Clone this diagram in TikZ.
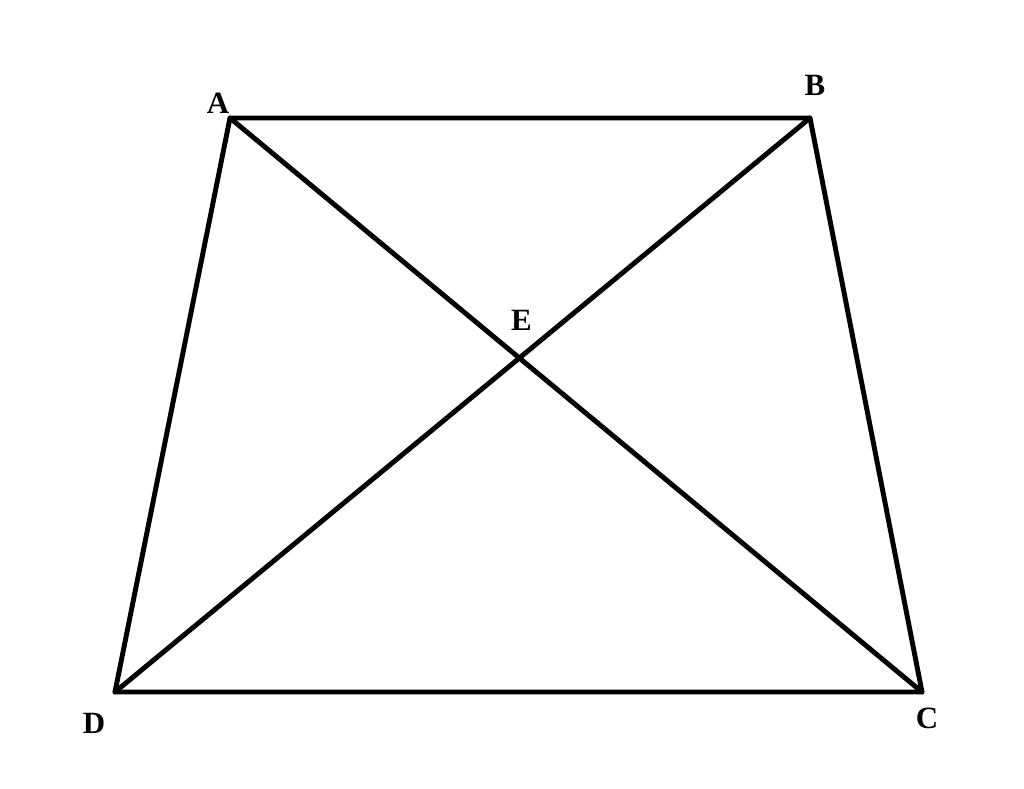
\documentclass[tikz,border=0pt]{standalone}
\usepackage{fontspec}
\setmainfont{Liberation Serif}
\usetikzlibrary{calc, intersections}

\begin{document}
\begin{tikzpicture}[font=\fontsize{22}{26}\selectfont\bfseries]
	\def\lw{3.5pt}
	\tikzset{
		side/.style={line width=\lw, line cap=round, line join=round},
		vertex/.style={inner sep=0pt, anchor=center},
	}

	\useasboundingbox (0,0) rectangle (25.6,19.725);

	\coordinate (A) at (5.75,16.775);
	\coordinate (B) at (20.25,16.775);
	\coordinate (C) at (23.05,2.425);
	\coordinate (D) at (2.875,2.425);

	\draw[side]	(A) -- (B) -- (C) -- (D) -- cycle;
	\draw[side, name path=AC]	(A) -- (C);
	\draw[side, name path=BD]	(B) -- (D);
	\path[name intersections={of=AC and BD, by=E}];

	\node[vertex] (labelA) at (5.45,17.15) {A};
	\node[vertex] (labelB) at (20.375,17.6) {B};
	\node[vertex] (labelC) at (23.175,1.775) {C};
	\node[vertex] (labelD) at (2.35,1.65) {D};
	\node[vertex] (labelE) at ($(E)+(0.05,0.95)$) {E};
\end{tikzpicture}
\end{document}
